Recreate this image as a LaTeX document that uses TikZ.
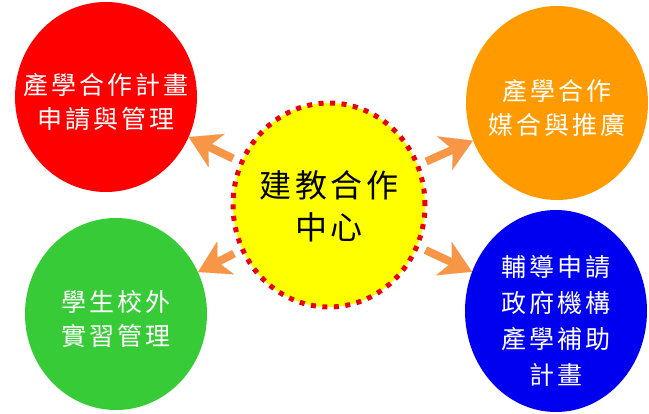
\documentclass[tikz,border=0pt]{standalone}
\usepackage{fontspec}
\setmainfont{Noto Sans CJK TC}
\newfontfamily\cjkwide[LetterSpace=12]{Noto Sans CJK TC}
\usetikzlibrary{shapes.geometric,arrows.meta}
\definecolor{planred}{HTML}{FF0000}
\definecolor{matchorange}{HTML}{FF9A00}
\definecolor{internGreen}{HTML}{38CB38}
\definecolor{grantBlue}{HTML}{0000F0}
\definecolor{coreYellow}{HTML}{FFFF00}
\definecolor{coreDots}{HTML}{E8000B}
\definecolor{arrowOrange}{HTML}{F79646}
\begin{document}
\begin{tikzpicture}[x=1pt, y=-1pt,
    bubble/.style={ellipse, draw=none, minimum width=182pt, minimum height=192pt},
    txt/.style={align=center, text=white, font=\cjkwide\fontsize{25}{34}\selectfont},
    arrow/.style={-{Stealth[length=31pt, width=37pt, inset=9pt, line width=0.1pt]}, line width=8pt, draw=arrowOrange, fill=arrowOrange}
]
    \useasboundingbox (0,0) rectangle (649,414);

    % Center
    \node[ellipse, fill=coreYellow, draw=coreDots, line width=5pt, dash pattern=on 5pt off 6.5pt, minimum width=192pt, minimum height=204pt] (core) at (329,205) {};
    \node[align=center, font=\cjkwide\fontsize{32}{42}\selectfont] (core-t) at ([yshift=-1pt]core.center) {建教合作\\中心};

    % Four services
    \node[bubble, fill=planred, minimum height=190pt] (plan) at (106,97) {};
    \node[txt] (plan-t) at ([yshift=-5pt]plan.center) {產學合作計畫\\申請與管理};

    \node[bubble, fill=matchorange, minimum height=194pt] (match) at (557,103) {};
    \node[txt] (match-t) at ([yshift=-5pt]match.center) {產學合作\\媒合與推廣};

    \node[bubble, fill=internGreen] (intern) at (116,314) {};
    \node[txt] (intern-t) at ([yshift=-5pt]intern.center) {學生校外\\實習管理};

    \node[bubble, fill=grantBlue, minimum height=202pt] (grant) at (556,311) {};
    \node[txt, font=\cjkwide\fontsize{25}{36}\selectfont] (grant-t) at ([yshift=-10pt]grant.center) {輔導申請\\政府機構\\產學補助\\計畫};

    % Arrows
    \draw[arrow, shorten <=7pt] (core) -- (plan);
    \draw[arrow, shorten <=7pt] (core) -- (match);
    \draw[arrow, shorten <=7pt] (core) -- (intern);
    \draw[arrow, shorten <=7pt] (core) -- (grant);
\end{tikzpicture}
\end{document}
